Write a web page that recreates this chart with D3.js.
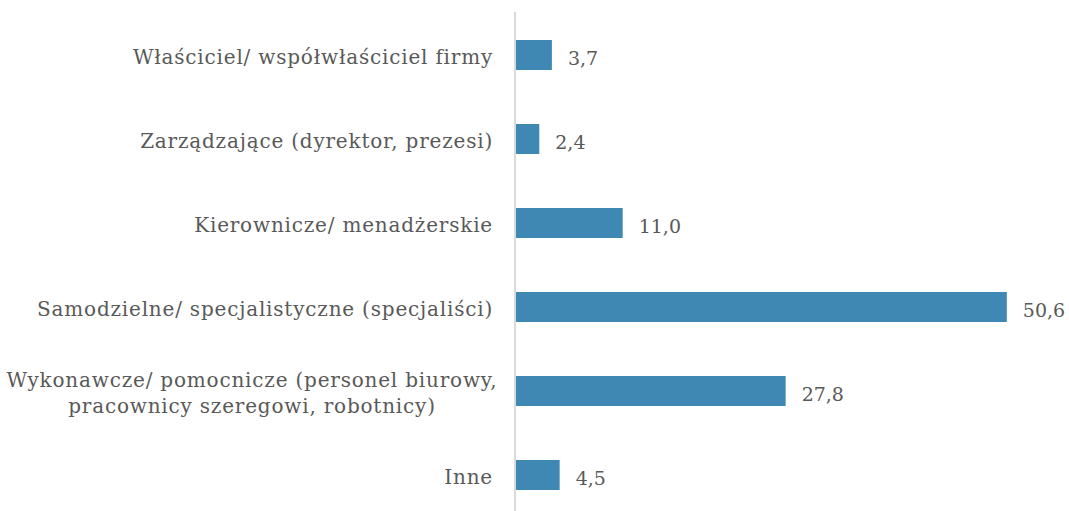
<!DOCTYPE html>
<html>
<head>
<meta charset="utf-8">
<script src="https://cdn.jsdelivr.net/npm/d3@7"></script>
<style>
  body { margin: 0; background: #fff; }
  text { font-family: "DejaVu Serif", serif; fill: #595959; }
</style>
</head>
<body>
<script>
const categories = [
    ['Właściciel/ współwłaściciel firmy'],
    ['Zarządzające (dyrektor, prezesi)'],
    ['Kierownicze/ menadżerskie'],
    ['Samodzielne/ specjalistyczne (specjaliści)'],
    ['Wykonawcze/ pomocnicze (personel biurowy,', 'pracownicy szeregowi, robotnicy)'],
    ['Inne']
];
const values = [3.7, 2.4, 11.0, 50.6, 27.8, 4.5];
const valueLabels = ['3,7', '2,4', '11,0', '50,6', '27,8', '4,5'];

const width = 1069;
const height = 511;
const axisX = 516;
const topY = 13;
const bandStep = 84;

const svg = d3.select('body')
              .append('svg')
                .attr('width', width)
                .attr('height', height);

const xScale = d3.scaleLinear()
                 .domain([0, 55])
                 .range([axisX, axisX + 55 * 9.7]);

const yScale = d3.scaleBand()
                 .domain(d3.range(values.length))
                 .range([topY, topY + bandStep * values.length])
                 .paddingInner(0.643)
                 .paddingOuter(0.3215);

// bars
svg.selectAll('rect.bar')
   .data(values)
   .enter()
     .append('rect')
       .attr('class', 'bar')
       .attr('x', xScale(0))
       .attr('y', (d, i) => yScale(i))
       .attr('width', (d) => xScale(d) - xScale(0))
       .attr('height', yScale.bandwidth())
       .attr('fill', '#3F88B4');

// vertical axis line
svg.append('line')
   .attr('x1', axisX - 1)
   .attr('x2', axisX - 1)
   .attr('y1', topY - 1)
   .attr('y2', height)
   .attr('stroke', '#D9D9D9')
   .attr('stroke-width', 2);

// category labels
const fontSize = 20;
svg.selectAll('text.cat')
   .data(categories)
   .enter()
     .append('text')
       .attr('class', 'cat')
       .attr('font-size', fontSize)
       .attr('letter-spacing', 0.8)
       .each(function(lines, i) {
           const cy = yScale(i) + yScale.bandwidth() / 2 + 2;
           const lineH = 26;
           const y0 = cy - (lines.length - 1) * lineH / 2;
           d3.select(this).selectAll('tspan')
             .data(lines)
             .enter()
               .append('tspan')
                 .attr('x', lines.length > 1 ? 252 : 493)
                 .attr('text-anchor', lines.length > 1 ? 'middle' : 'end')
                 .attr('y', (l, j) => y0 + j * lineH)
                 .attr('dy', '0.35em')
                 .text((l) => l);
       });

// value labels
svg.selectAll('text.val')
   .data(values)
   .enter()
     .append('text')
       .attr('class', 'val')
       .attr('x', (d) => xScale(d) + 16)
       .attr('y', (d, i) => yScale(i) + yScale.bandwidth() / 2 + 2)
       .attr('dy', '0.4em')
       .attr('font-size', 19)
       .text((d, i) => valueLabels[i]);
</script>
</body>
</html>
